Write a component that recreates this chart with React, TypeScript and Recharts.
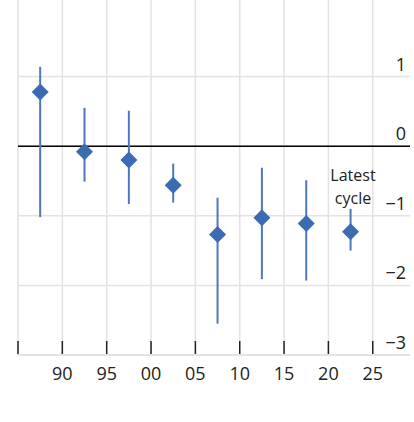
import React from "react";
import {
  ComposedChart,
  Scatter,
  XAxis,
  YAxis,
  CartesianGrid,
  ReferenceLine,
  ErrorBar,
} from "recharts";

const cycleMidYears = [1987.5, 1992.5, 1997.5, 2002.5, 2007.5, 2012.5, 2017.5, 2022.5];
const centralValues = [0.78, -0.08, -0.2, -0.56, -1.27, -1.03, -1.11, -1.23];
const upperValues = [1.14, 0.55, 0.51, -0.25, -0.74, -0.31, -0.49, -0.9];
const lowerValues = [-1.02, -0.51, -0.83, -0.81, -2.55, -1.91, -1.93, -1.5];
const xTicks = [1985, 1990, 1995, 2000, 2005, 2010, 2015, 2020, 2025];
const yTicks = [-3, -2, -1, 0, 1];
const noteLines = ["Latest", "cycle"];

const data = cycleMidYears.map((x, i) => ({
  x,
  y: centralValues[i],
  err: [centralValues[i] - lowerValues[i], upperValues[i] - centralValues[i]],
}));

const FONT = "'Open Sans', 'Noto Sans', sans-serif";

const Diamond = (props: any) => {
  const { cx, cy } = props;
  const r = 8.5;
  return (
    <path
      d={`M${cx},${cy - r}L${cx + r},${cy}L${cx},${cy + r}L${cx - r},${cy}Z`}
      fill="#3a6bb3"
    />
  );
};

const XTick = (props: any) => {
  const { x, y, payload } = props;
  const v = payload.value as number;
  const label = v === 1985 ? "" : String(v % 100).padStart(2, "0");
  return (
    <g>
      <line x1={x} x2={x} y1={y - 14} y2={y - 1} stroke="#222" strokeWidth={1.5} />
      <text x={x} y={y + 25} textAnchor="middle" fontSize={18} fill="#222" fontFamily={FONT}>
        {label}
      </text>
    </g>
  );
};

const YTick = (props: any) => {
  const { x, y, payload } = props;
  const v = payload.value as number;
  const label = v < 0 ? `\u2212${Math.abs(v)}` : String(v);
  return (
    <text x={x - 4} y={y - 6} textAnchor="end" fontSize={18} fill="#222" fontFamily={FONT}>
      {label}
    </text>
  );
};

export default function App() {
  return (
    <div style={{ position: "absolute", left: 0, top: 0, width: 414, height: 422, background: "#fff" }}>
      <ComposedChart
        width={414}
        height={422}
        data={data}
        margin={{ top: 0, right: 4, bottom: 0, left: 18 }}
      >
        <CartesianGrid stroke="#e2e2e2" strokeWidth={1.5} verticalValues={xTicks} horizontalValues={yTicks} />
        <XAxis
          type="number"
          dataKey="x"
          domain={[1985, 2029.2]}
          ticks={xTicks}
          allowDataOverflow
          axisLine={{ stroke: "#e2e2e2", strokeWidth: 1.5 }}
          tickLine={false}
          tickSize={0}
          tickMargin={0}
          tick={<XTick />}
          interval={0}
          height={67}
        />
        <YAxis
          type="number"
          dataKey="y"
          orientation="right"
          mirror
          domain={[-3, 2.1]}
          ticks={yTicks}
          allowDataOverflow
          axisLine={false}
          tickLine={false}
          tickSize={0}
          tickMargin={0}
          width={40}
          tick={<YTick />}
          interval={0}
        />
        <ReferenceLine y={0} stroke="#000" strokeWidth={1.5} ifOverflow="visible" />
        <Scatter dataKey="y" shape={<Diamond />} isAnimationActive={false}>
          <ErrorBar dataKey="err" direction="y" width={0} stroke="#4f77bd" strokeWidth={2} isAnimationActive={false} />
        </Scatter>
        <text x={353} y={181} textAnchor="middle" fontSize={16} fill="#222" fontFamily={FONT}>
          {noteLines[0]}
        </text>
        <text x={353} y={204} textAnchor="middle" fontSize={16} fill="#222" fontFamily={FONT}>
          {noteLines[1]}
        </text>
      </ComposedChart>
    </div>
  );
}
